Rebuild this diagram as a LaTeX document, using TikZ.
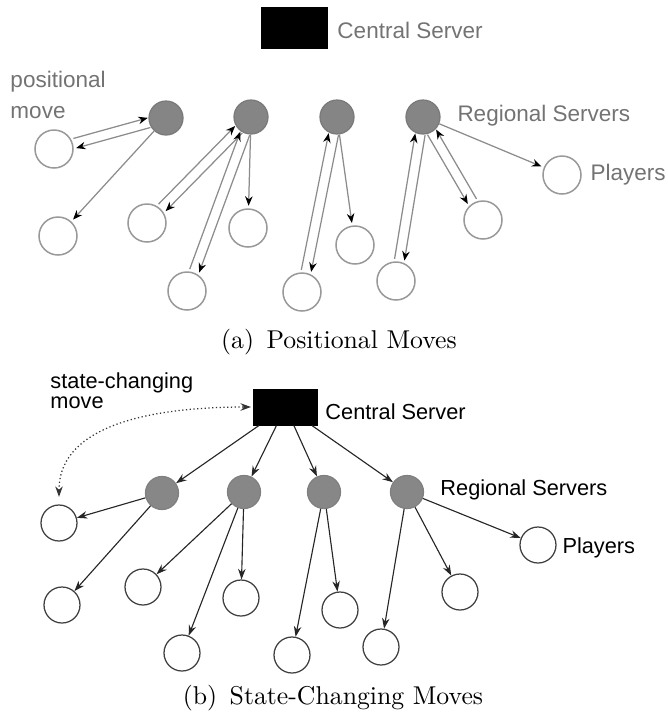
\documentclass[tikz,border=0pt]{standalone}
\usepackage{fontspec}
\newfontfamily\lsans{Liberation Sans}
\usetikzlibrary{arrows.meta,calc}
\tikzset{
  splayer/.style={circle,draw=black!40,fill=white,minimum size=15.2pt,inner sep=0pt,line width=0.6pt},
  sreg/.style={circle,fill=black!48,draw=black!52,minimum size=13.6pt,inner sep=0pt,line width=0.5pt},
  bplayer/.style={circle,draw=black!75,fill=white,minimum size=14.4pt,inner sep=0pt,line width=0.5pt},
  breg/.style={circle,fill=black!47,draw=black!50,minimum size=13.2pt,inner sep=0pt,line width=0.5pt},
  central/.style={rectangle,fill=black,draw=black,inner sep=0pt},
  lab/.style={anchor=west,inner sep=0pt,font=\lsans\fontsize{8.7}{10}\selectfont},
  tlab/.style={anchor=west,inner sep=0pt,text=black!55,font=\lsans\fontsize{9}{11}\selectfont},
  capt/.style={inner sep=0pt,font=\fontsize{10.3}{12}\selectfont},
  parr/.style={draw=black!45,line width=0.5pt,-{Stealth[length=3.8pt,width=3pt,black]}},
  barr/.style={draw=black!85,line width=0.45pt,-{Stealth[length=4.2pt,width=3pt]}},
}
\newcommand\pairlink[3]{%
  \draw[parr,shorten <=7pt,shorten >=8.6pt] ($(#1)!#3!90:(#2)$) -- ($(#2)!#3!-90:(#1)$);
  \draw[parr,shorten <=8.6pt,shorten >=7pt] ($(#2)!#3!90:(#1)$) -- ($(#1)!#3!-90:(#2)$);
}
\begin{document}
\begin{tikzpicture}[x=0.4pt,y=-0.4pt]
\useasboundingbox (0,0) rectangle (668,722);
% ---------------- (a) Positional Moves ----------------
\node[central,minimum width=26pt,minimum height=16.4pt] (CA) at (294.5,27.5) {};
\node[tlab] (CAl) at (337,30) {Central Server};
\node[tlab] (posl1) at (10,82) {positional};
\node[tlab] (posl2) at (10,113) {move};
\node[sreg] (RA1) at (166,118) {};
\node[sreg] (RA2) at (251,117) {};
\node[sreg] (RA3) at (337,117) {};
\node[sreg] (RA4) at (423,117) {};
\node[tlab] (RAl) at (457,116) {Regional Servers};
\node[splayer] (PA1) at (54,149) {};
\node[splayer] (PA2) at (58,236) {};
\node[splayer] (PA3) at (147,223) {};
\node[splayer] (PA4) at (248,228) {};
\node[splayer] (PA5) at (187,291) {};
\node[splayer] (PA6) at (302,292) {};
\node[splayer] (PA7) at (355,245) {};
\node[splayer] (PA8) at (396,281) {};
\node[splayer] (PA9) at (483,220) {};
\node[splayer] (PA10) at (562,175) {};
\node[tlab] (PAl) at (590,175) {Players};
\pairlink{RA1}{PA1}{2pt}
\draw[parr,shorten >=1pt] (RA1) -- (PA2);
\pairlink{RA2}{PA3}{2pt}
\pairlink{RA2}{PA5}{2pt}
\draw[parr,shorten >=1pt] (RA2) -- (PA4);
\pairlink{RA3}{PA6}{2pt}
\draw[parr,shorten >=1pt] (RA3) -- (PA7);
\pairlink{RA4}{PA8}{2pt}
\pairlink{RA4}{PA9}{-2pt}
\draw[parr,shorten >=1pt] (RA4) -- (PA10);
\node[capt] (capa) at (339,342) {(a)\hspace{5pt}Positional Moves};
% ---------------- (b) State-Changing Moves ----------------
\node[central,minimum width=25.2pt,minimum height=14.4pt] (CB) at (285.5,407) {};
\node[lab] (CBl) at (325,412) {Central Server};
\node[lab,align=left,font=\lsans\fontsize{8.7}{8}\selectfont] (scl) at (50,391) {state-changing\\move};
\node[breg] (RB1) at (162,493) {};
\node[breg] (RB2) at (244,492) {};
\node[breg] (RB3) at (324,492) {};
\node[breg] (RB4) at (407,492) {};
\node[lab] (RBl) at (440,490) {Regional Servers};
\node[bplayer] (PB1) at (59,523) {};
\node[bplayer] (PB2) at (62,605) {};
\node[bplayer] (PB3) at (143,587) {};
\node[bplayer] (PB4) at (241,598) {};
\node[bplayer] (PB5) at (182,653) {};
\node[bplayer] (PB6) at (292,655) {};
\node[bplayer] (PB7) at (340,610) {};
\node[bplayer] (PB8) at (381,647) {};
\node[bplayer] (PB9) at (460,592) {};
\node[bplayer] (PB10) at (538,545) {};
\node[lab] (PBl) at (562,548) {Players};
\foreach \r in {RB1,RB2,RB3,RB4} \draw[barr] (CB) -- (\r);
\draw[barr] (RB1) -- (PB1);
\draw[barr] (RB1) -- (PB2);
\draw[barr] (RB2) -- (PB3);
\draw[barr] (RB2) -- (PB5);
\draw[barr] (RB2) -- (PB4);
\draw[barr] (RB3) -- (PB6);
\draw[barr] (RB3) -- (PB7);
\draw[barr] (RB4) -- (PB8);
\draw[barr] (RB4) -- (PB9);
\draw[barr] (RB4) -- (PB10);
\draw[draw=black!80,line width=0.5pt,densely dotted,{Stealth[length=4.2pt,width=3pt]}-{Stealth[length=4.2pt,width=3pt]},shorten <=3pt,shorten >=1pt]
  (PB1.north) to[out=90,in=180] (CB.west);
\node[capt] (capb) at (333,698) {(b)\hspace{5pt}State-Changing Moves};
\end{tikzpicture}
\end{document}
